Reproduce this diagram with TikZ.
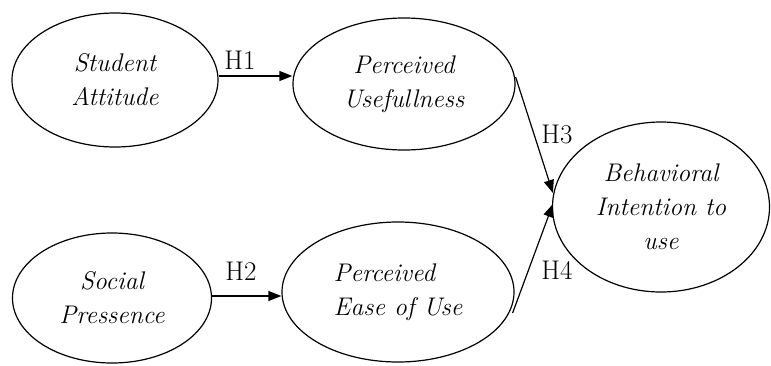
\documentclass[tikz,border=0pt]{standalone}
\usetikzlibrary{arrows.meta,shapes.geometric,calc}
\begin{document}
\begin{tikzpicture}[x=1pt,y=-1pt,
  construct/.style={draw,ellipse,line width=1.2pt,inner sep=0pt,align=center,
    font=\fontsize{25.5}{34}\selectfont\itshape},
  link/.style={line width=1.2pt,-{Triangle[length=13pt,width=10pt]}},
  hlabel/.style={font=\fontsize{27}{30}\selectfont,inner sep=0pt}]
\useasboundingbox (0,0) rectangle (771,365);
\node[construct,minimum width=206pt,minimum height=134pt] (sa) at (115,80) {Student\\Attitude};
\node[construct,minimum width=222pt,minimum height=132pt] (pu) at (404,84) {Perceived\\Usefullness};
\node[construct,minimum width=199pt,minimum height=130pt] (sp) at (112,298) {Social\\Pressence};
\node[construct,minimum width=232pt,minimum height=140pt,align=left] (pe) at (398,292) {Perceived\\Ease of Use};
\node[construct,minimum width=217pt,minimum height=170pt] (bi) at (661,207) {Behavioral\\Intention to\\use};
\draw[link] ($(sa.east)+(0,-4)$) -- ($(pu.west)+(0,-8)$);
\draw[link] ($(sp.east)+(0,-2)$) -- ($(sp.east -| pe.west)+(0,-2)$);
\draw[link] ($(pu.east)+(0,-7)$) -- ($(bi.west)+(1,-14)$);
\draw[link] ($(pe.east)+(-2,21)$) -- ($(bi.west)+(1,-3)$);
\node[hlabel] (h1) at (240,60) {H1};
\node[hlabel] (h2) at (241,271) {H2};
\node[hlabel] (h3) at (557,134) {H3};
\node[hlabel] (h4) at (557,270) {H4};
\end{tikzpicture}
\end{document}
